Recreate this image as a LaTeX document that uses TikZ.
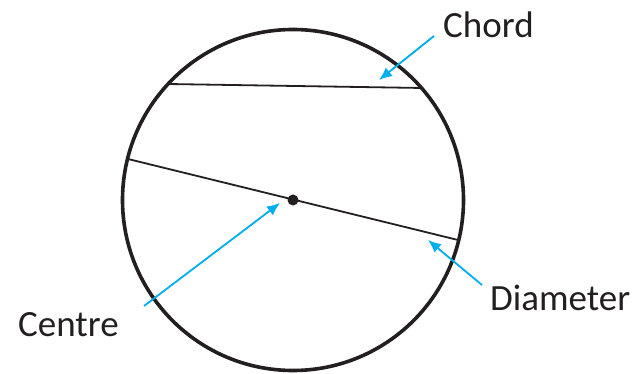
\documentclass[tikz,border=0pt]{standalone}
\usepackage{fontspec}
\setmainfont{Carlito}
\usetikzlibrary{arrows.meta}
\definecolor{arrowblue}{RGB}{0,174,239}
\definecolor{ink}{RGB}{35,31,32}
\tikzset{
  rim/.style={draw=ink, line width=3.6pt},
  segline/.style={draw=ink, line width=1.8pt},
  pointer/.style={draw=arrowblue, line width=1.8pt, -{Latex[length=13pt,width=11pt]}},
  lbl/.style={font=\fontsize{37}{44}\selectfont, text=ink, inner sep=0pt, anchor=base west}
}
\begin{document}
\begin{tikzpicture}[x=1pt,y=-1pt]
\useasboundingbox (0,0) rectangle (635,374);
\coordinate (O) at (293,200);
\draw[rim] (O) circle (170.5);
% chord
\coordinate (c1) at (168,84);
\coordinate (c2) at (423,88);
\draw[segline] (c1) -- (c2);
% diameter
\coordinate (d1) at (128,159);
\coordinate (d2) at (458,240);
\draw[segline] (d1) -- (d2);
\fill[ink] (O) circle (5.5);
% labels
\node[lbl] (chord) at (443,38) {Chord};
\node[lbl] (centre) at (18,336) {Centre};
\node[lbl] (diam) at (490,311) {Diameter};
% pointers
\coordinate (pc0) at (434,36);
\coordinate (pc1) at (379,80);
\coordinate (pz0) at (144,306);
\coordinate (pz1) at (280,203);
\coordinate (pd0) at (482,285);
\coordinate (pd1) at (428,240);
\draw[pointer] (pc0) -- (pc1);
\draw[pointer] (pz0) -- (pz1);
\draw[pointer] (pd0) -- (pd1);
\end{tikzpicture}
\end{document}
